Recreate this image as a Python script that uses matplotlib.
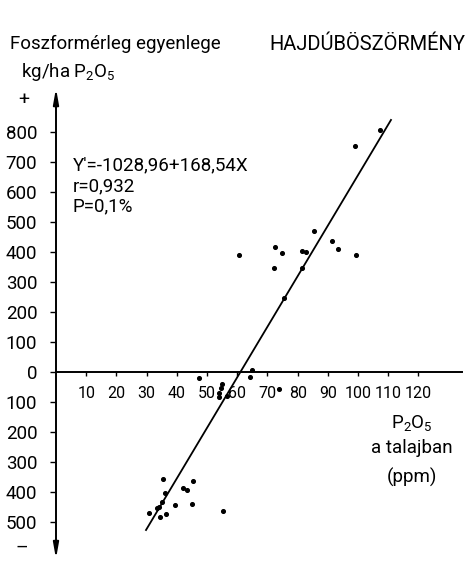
import matplotlib
matplotlib.use("Agg")
import matplotlib.pyplot as plt
import numpy as np

plt.rcParams['font.family'] = ['Roboto', 'DejaVu Sans']
plt.rcParams['mathtext.fontset'] = 'custom'
plt.rcParams['mathtext.rm'] = 'Roboto'
plt.rcParams['mathtext.it'] = 'Roboto'

# data: soil P2O5 (ppm) vs phosphorus balance (kg/ha P2O5)
x_vals = [107.3, 99.0, 60.7, 72.5, 74.7, 72.2, 81.3, 82.8, 81.3, 85.4, 91.5, 93.5, 99.3, 75.5,
          65.0, 64.3, 47.4, 54.8, 54.5, 54.1, 53.8, 56.5, 73.8,
          35.3, 45.3, 42.0, 43.5, 36.1, 35.0, 39.4, 44.9, 33.3, 34.2, 30.9, 34.4, 36.4, 55.2]
y_vals = [807, 753, 390, 416, 398, 348, 404, 401, 346, 470, 438, 410, 390, 247,
          8, -18, -19, -41, -54, -71, -82, -80, -57,
          -358, -365, -388, -393, -404, -432, -443, -441, -455, -449, -471, -482, -473, -462]
intercept = -1028.96
slope = 168.54 / 10.0   # X expressed in tens of ppm
line_x = [29.8, 110.9]

y_ticks = [800, 700, 600, 500, 400, 300, 200, 100, 0, -100, -200, -300, -400, -500]
y_ticklabels = ['800', '700', '600', '500', '400', '300', '200', '100', '0',
                '100', '200', '300', '400', '500']
x_ticks = [10, 20, 30, 40, 50, 60, 70, 80, 90, 100, 110, 120]

fig = plt.figure(figsize=(4.68, 5.63), dpi=100)
ax = fig.add_axes([0, 0, 1, 1])
ax.set_xlim(-18.54, 136.4)
ax.set_ylim(-636.7, 1240)

for s in ['top', 'right']:
    ax.spines[s].set_visible(False)
ax.spines['left'].set_position(('data', 0))
ax.spines['bottom'].set_position(('data', 0))
ax.spines['left'].set_bounds(-600, 920)
ax.spines['bottom'].set_bounds(0, 134.4)
ax.spines['left'].set_linewidth(1.4)
ax.spines['bottom'].set_linewidth(1.4)

ax.set_yticks(y_ticks)
ax.set_yticklabels(y_ticklabels)
ax.set_xticks(x_ticks)
ax.set_xticklabels([str(t) for t in x_ticks])
ax.tick_params(axis='y', direction='out', length=4.5, width=1.0, pad=9, labelsize=13.5)
ax.tick_params(axis='x', direction='out', length=3, width=1.0, pad=7, labelsize=11.5)

# arrows on the y axis
ax.annotate('', xy=(0, 955), xytext=(0, 870), annotation_clip=False,
            arrowprops=dict(arrowstyle='-|>,head_width=0.16,head_length=0.9', color='black', lw=1.4))
ax.annotate('', xy=(0, -632), xytext=(0, -560), annotation_clip=False,
            arrowprops=dict(arrowstyle='-|>,head_width=0.16,head_length=0.9', color='black', lw=1.4))

# regression line
lx = np.array(line_x)
ax.plot(lx, intercept + slope * lx, color='black', lw=1.3)

ax.scatter(x_vals, y_vals, s=7, color='black', zorder=3)

# texts
fs = 13.5
fig.text(10 / 468, 1 - 44 / 563, 'Foszformérleg egyenlege', fontsize=fs, va='center', ha='left')
fig.text(21 / 468, 1 - 72 / 563, 'kg/ha P$_2$O$_5$', fontsize=fs, va='center', ha='left')
fig.text(465 / 468, 1 - 44 / 563, 'HAJDÚBÖSZÖRMÉNY', fontsize=14.5, va='center', ha='right')
fig.text(24 / 468, 1 - 100 / 563, '+', fontsize=14, va='center', ha='center')
fig.text(22 / 468, 1 - 548 / 563, '–', fontsize=14, va='center', ha='center')

fig.text(73 / 468, 1 - 165 / 563, "Y'=-1028,96+168,54X", fontsize=fs, va='center', ha='left')
fig.text(73 / 468, 1 - 186 / 563, 'r=0,932', fontsize=fs, va='center', ha='left')
fig.text(73 / 468, 1 - 206 / 563, 'P=0,1%', fontsize=fs, va='center', ha='left')

fig.text(412 / 468, 1 - 423 / 563, 'P$_2$O$_5$', fontsize=fs, va='center', ha='center')
fig.text(412 / 468, 1 - 448 / 563, 'a talajban', fontsize=fs, va='center', ha='center')
fig.text(412 / 468, 1 - 477 / 563, '(ppm)', fontsize=fs, va='center', ha='center')

fig.savefig('out.png', dpi=100)
